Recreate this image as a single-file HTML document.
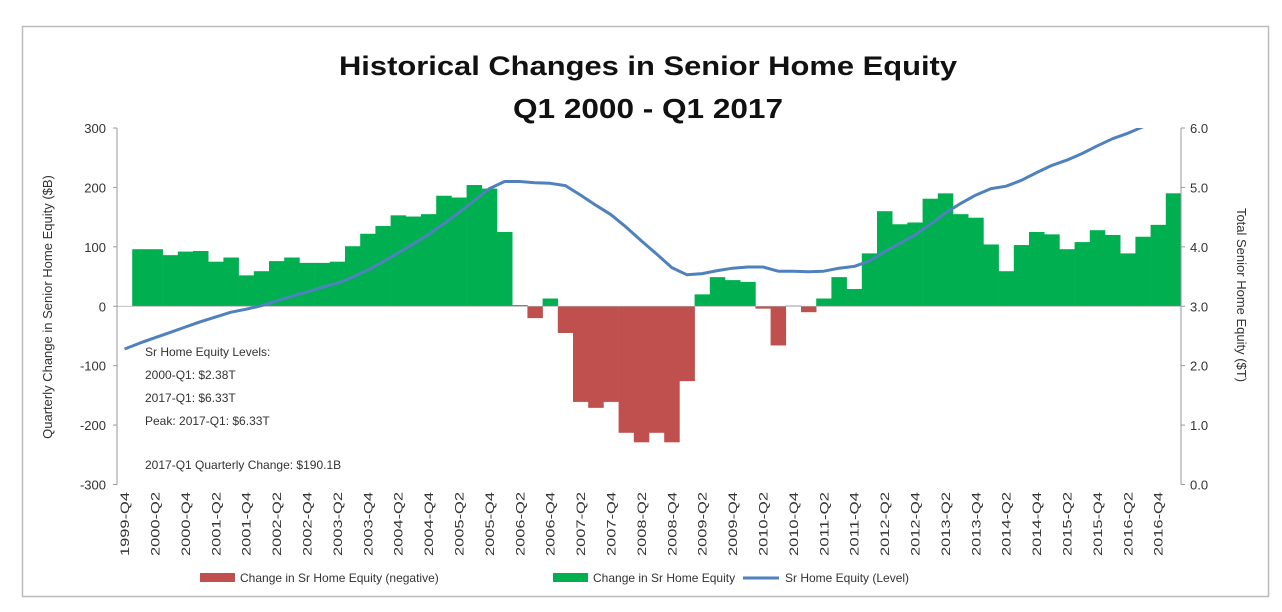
<!DOCTYPE html>
<html><head><meta charset="utf-8"><style>
html,body{margin:0;padding:0;background:#fff;}
svg{display:block;font-family:"Liberation Sans",sans-serif;}
</style></head><body>
<svg id="chart" width="1282" height="612" viewBox="0 0 1282 612" xmlns="http://www.w3.org/2000/svg">
<rect x="22.5" y="26.5" width="1246" height="570" fill="#fff" stroke="#bbbbbb" stroke-width="1.5"/>
<text x="648" y="75" text-anchor="middle" font-size="27" font-weight="bold" fill="#111" textLength="618" lengthAdjust="spacingAndGlyphs">Historical Changes in Senior Home Equity</text>
<text x="648" y="118" text-anchor="middle" font-size="28" font-weight="bold" fill="#111" textLength="270" lengthAdjust="spacingAndGlyphs">Q1 2000 - Q1 2017</text>
<text transform="translate(52,307) rotate(-90)" text-anchor="middle" font-size="13" fill="#333">Quarterly Change in Senior Home Equity ($B)</text>
<text transform="translate(1237,295) rotate(90)" text-anchor="middle" font-size="13" fill="#333">Total Senior Home Equity ($T)</text>
<defs><clipPath id="plotclip"><rect x="117" y="128" width="1064" height="357"/></clipPath></defs>
<g id="bars"></g>
<g id="axes"></g>
<g id="line" clip-path="url(#plotclip)"></g>
<g id="xlabels"></g>
<g font-size="12" fill="#333">
<text x="145" y="356">Sr Home Equity Levels:</text>
<text x="145" y="379">2000-Q1: $2.38T</text>
<text x="145" y="402">2017-Q1: $6.33T</text>
<text x="145" y="425">Peak: 2017-Q1: $6.33T</text>
<text x="145" y="469">2017-Q1 Quarterly Change: $190.1B</text>
</g>
<g font-size="12" fill="#333">
<rect x="200" y="573" width="35" height="9" fill="#c0504d"/>
<text x="240" y="582">Change in Sr Home Equity (negative)</text>
<rect x="553" y="573" width="35" height="9" fill="#00b050"/>
<text x="593" y="582">Change in Sr Home Equity</text>
<line x1="743" y1="578" x2="779" y2="578" stroke="#4f81bd" stroke-width="3"/>
<text x="785" y="582">Sr Home Equity (Level)</text>
</g>
</svg>
<script>
const categories = (function(){const a=['1999-Q4'];for(let y=2000;y<=2017;y++){for(let q=1;q<=4;q++){if(y===2017&&q>1)break;a.push(y+'-Q'+q);}}return a;})();
const changeValues = [null,96,96,86,92,93,75,82,52,59,76,82,73,73,75,101,122,135,153,151,155,186,183,204,198,125,2,-20,13,-45,-161,-171,-161,-213,-229,-213,-229,-126,20,49,44,41,-4,-66,1,-10,13,49,29,89,160,138,141,181,190,155,149,104,59,103,125,121,96,108,128,120,89,117,137,190.1];
const levelValues = [2.28,2.38,2.47,2.56,2.65,2.74,2.82,2.90,2.95,3.01,3.09,3.17,3.24,3.32,3.39,3.49,3.61,3.75,3.90,4.05,4.21,4.39,4.58,4.78,4.98,5.10,5.10,5.08,5.07,5.03,4.87,4.70,4.54,4.33,4.10,3.88,3.65,3.53,3.55,3.60,3.64,3.66,3.66,3.59,3.59,3.58,3.59,3.64,3.67,3.76,3.92,4.06,4.20,4.38,4.57,4.73,4.87,4.98,5.02,5.12,5.25,5.37,5.46,5.57,5.70,5.82,5.91,6.02,6.15,6.33];
const leftTicks = [300,200,100,0,-100,-200,-300];
const rightTicks = ['6.0','5.0','4.0','3.0','2.0','1.0','0.0'];

const NS='http://www.w3.org/2000/svg';
const X0=117,X1=1181,YT=128,YB=484.5;
const bw=(X1-X0)/categories.length;
function xBand(i){return X0+i*bw;}
function yL(v){return YT+(300-v)/600*(YB-YT);}
function yR(v){return YB-v/6*(YB-YT);}
function mk(tag,attrs,parent){const e=document.createElementNS(NS,tag);for(const k in attrs)e.setAttribute(k,attrs[k]);parent.appendChild(e);return e;}

const gb=document.getElementById('bars');
changeValues.forEach((v,i)=>{
  if(v===null)return;
  const y0=yL(0),y1=yL(v);
  const r=mk('rect',{x:xBand(i),y:Math.min(y0,y1),width:bw+0.3,height:Math.max(0.6,Math.abs(y1-y0)),fill:v<0?'#c0504d':'#00b050'},gb);
  
  
});

const ga=document.getElementById('axes');
const la=mk('line',{x1:X0,y1:YT,x2:X0,y2:YB,stroke:'#999'},ga);


const ra=mk('line',{x1:X1,y1:YT,x2:X1,y2:YB,stroke:'#999'},ga);


const za=mk('line',{x1:X0,y1:yL(0),x2:X1,y2:yL(0),stroke:'#aaa','stroke-width':0.8},ga);


leftTicks.forEach(v=>{
  const y=yL(v);
  mk('line',{x1:X0-4,y1:y,x2:X0,y2:y,stroke:'#999'},ga);
  const t=mk('text',{x:X0-11,y:y+5,'text-anchor':'end','font-size':13,fill:'#333'},ga);
  t.textContent=v;
  
  
});
rightTicks.forEach(s=>{
  const y=yR(parseFloat(s));
  mk('line',{x1:X1,y1:y,x2:X1+4,y2:y,stroke:'#999'},ga);
  const t=mk('text',{x:X1+9,y:y+5,'font-size':13,fill:'#333'},ga);
  t.textContent=s;
  
  
});

const gl=document.getElementById('line');
const pts=levelValues.map((v,i)=>(xBand(i)+bw/2).toFixed(1)+','+yR(v).toFixed(1)).join(' ');
const pl=mk('polyline',{points:pts,fill:'none',stroke:'#4f81bd','stroke-width':3,'stroke-linejoin':'round'},gl);



const gx=document.getElementById('xlabels');
categories.forEach((c,i)=>{
  if(i%2!==0)return;
  const x=xBand(i)+bw/2;
  const t=mk('text',{transform:'translate('+(x+4.5)+',492) rotate(-90)','text-anchor':'end','font-size':12,fill:'#333',textLength:64,lengthAdjust:'spacingAndGlyphs'},gx);
  t.textContent=c;
  
  
});
</script>
</body></html>
